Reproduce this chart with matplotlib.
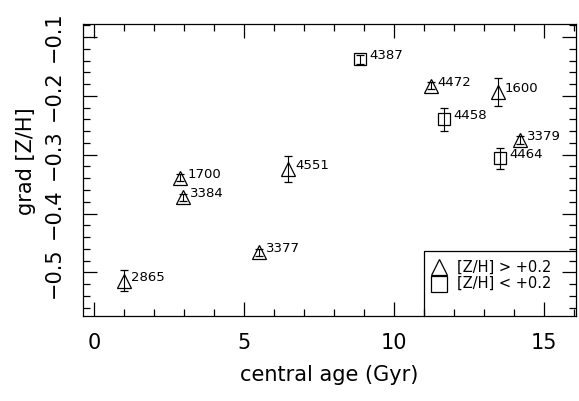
import matplotlib.pyplot as plt
import numpy as np

plt.rc('font', family='DejaVu Sans', size=14)

# galaxies with [Z/H] > +0.2 (triangles)
tri_names = ["2865", "1700", "3384", "3377", "4551", "4472", "1600", "3379"]
tri_age = [1.0, 2.87, 2.97, 5.5, 6.47, 11.23, 13.47, 14.2]
tri_grad = [-0.514, -0.339, -0.372, -0.466, -0.325, -0.183, -0.193, -0.275]
tri_err = [0.018, 0.006, 0.006, 0.006, 0.022, 0.006, 0.024, 0.006]

# galaxies with [Z/H] < +0.2 (squares)
sq_names = ["4387", "4458", "4464"]
sq_age = [8.87, 11.67, 13.53]
sq_grad = [-0.138, -0.240, -0.306]
sq_err = [0.008, 0.019, 0.018]

fig = plt.figure(figsize=(5.79, 4.01), dpi=100)
ax = fig.add_axes([0.1434, 0.212, 0.8515, 0.728])

ax.errorbar(tri_age, tri_grad, yerr=tri_err, fmt='^', mfc='none', mec='black',
            ms=10, mew=0.9, ecolor='black', elinewidth=0.8, capsize=3,
            capthick=0.8)
ax.errorbar(sq_age, sq_grad, yerr=sq_err, fmt='s', mfc='none', mec='black',
            ms=9, mew=0.9, ecolor='black', elinewidth=0.8, capsize=3,
            capthick=0.8)

for n, x, y in zip(tri_names, tri_age, tri_grad):
    ax.annotate(n, (x, y), xytext=(5, 0), textcoords='offset points',
                fontsize=9.5, ha='left', va='baseline')
for n, x, y in zip(sq_names, sq_age, sq_grad):
    ax.annotate(n, (x, y), xytext=(6.5, 0), textcoords='offset points',
                fontsize=9.5, ha='left', va='baseline')

ax.set_xlim(-0.37, 16.07)
ax.set_ylim(-0.574, -0.078)
ax.set_xticks([0, 5, 10, 15])
ax.set_xticks(np.arange(0, 17, 1), minor=True)
ax.set_yticks([-0.5, -0.4, -0.3, -0.2, -0.1])
ax.set_yticks(np.arange(-0.56, -0.07, 0.02), minor=True)
ax.tick_params(which='both', direction='in', top=True, right=True, width=0.9)
ax.tick_params(which='major', length=10)
ax.tick_params(which='minor', length=5)
ax.tick_params(axis='x', which='major', labelsize=15, pad=12)
ax.tick_params(axis='y', which='major', labelsize=15, pad=14)
for lab in ax.get_yticklabels():
    lab.set_rotation(90)
    lab.set_va('center')
for s in ax.spines.values():
    s.set_linewidth(0.9)

ax.set_xlabel("central age (Gyr)", fontsize=15, labelpad=9)
ax.set_ylabel("grad [Z/H]", fontsize=15)
ax.yaxis.set_label_coords(-0.095, 0.53)

# legend box in lower right
ax.plot([11.0, 11.0, 16.07], [-0.574, -0.463, -0.463], color='black', lw=0.9,
        clip_on=False)
ax.plot([11.5], [-0.491], marker='^', mfc='none', mec='black', ms=12, mew=0.9)
ax.plot([11.5], [-0.519], marker='s', mfc='none', mec='black', ms=11, mew=0.9)
ax.text(12.1, -0.491, "[Z/H] > +0.2", fontsize=10.5, va='center')
ax.text(12.1, -0.519, "[Z/H] < +0.2", fontsize=10.5, va='center')

fig.savefig("out.png", dpi=100)
